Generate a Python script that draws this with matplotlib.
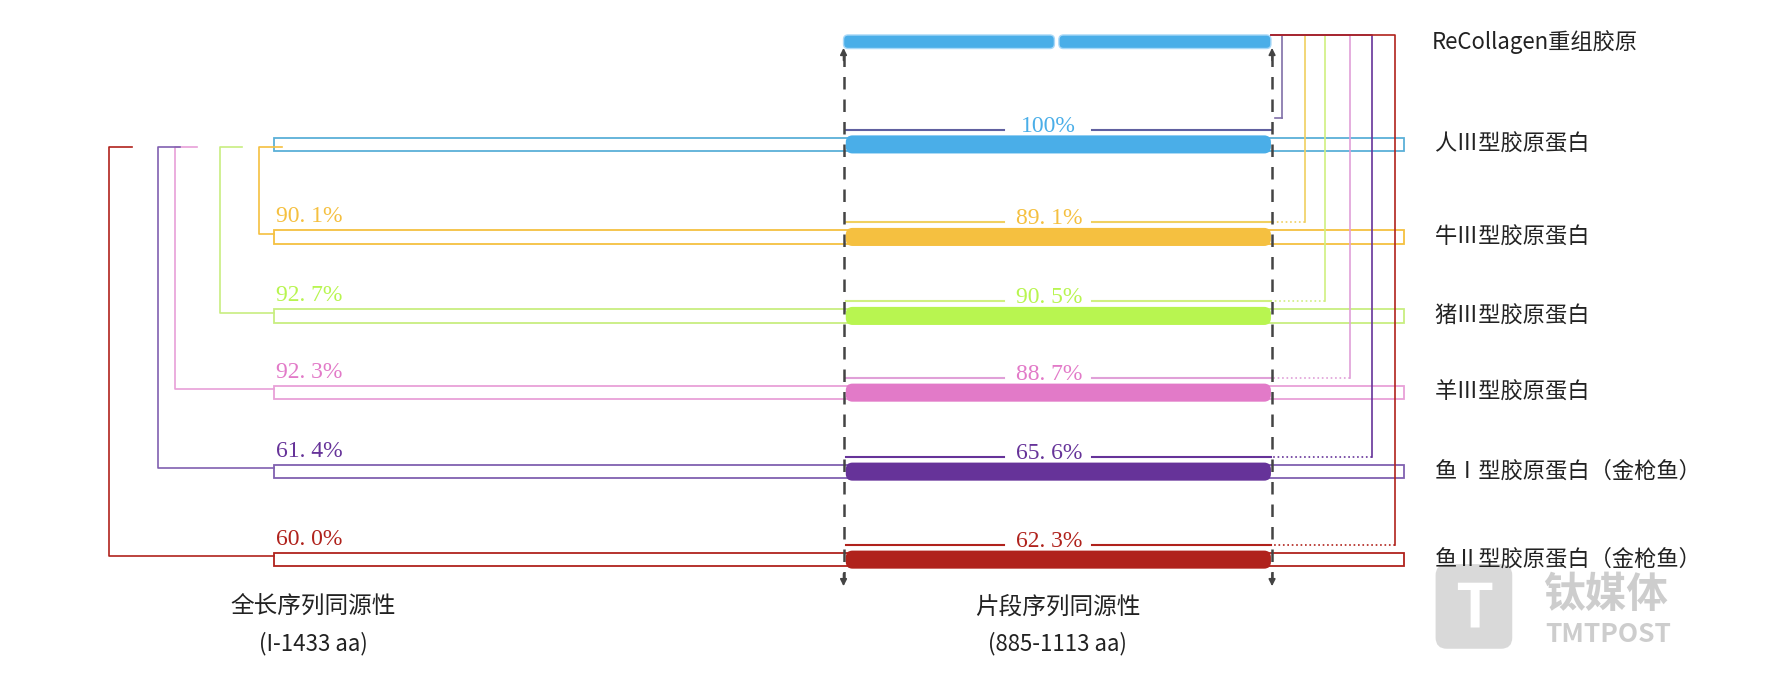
import matplotlib
matplotlib.use("Agg")
import matplotlib.pyplot as plt
from matplotlib.patches import FancyBboxPatch, Rectangle

plt.rcParams['font.family'] = ['Noto Sans CJK SC', 'DejaVu Sans']

names = ["人Ⅲ型胶原蛋白", "牛Ⅲ型胶原蛋白", "猪Ⅲ型胶原蛋白", "羊Ⅲ型胶原蛋白",
         "鱼Ⅰ型胶原蛋白（金枪鱼）", "鱼Ⅱ型胶原蛋白（金枪鱼）"]
full_pct = [None, "90. 1%", "92. 7%", "92. 3%", "61. 4%", "60. 0%"]
frag_pct = ["100%", "89. 1%", "90. 5%", "88. 7%", "65. 6%", "62. 3%"]
colors = ["#4aaee8", "#f5c040", "#b8f550", "#e27ac8", "#663399", "#b0221c"]
outline = ["#5ab0d8", "#f5c040", "#c8ee80", "#e8a0d8", "#8060b0", "#b0221c"]
right_col = ["#8070a8", "#f0d060", "#d0f080", "#e0a0d8", "#663399", "#b0221c"]
rows_y = [128, 210, 280, 348, 418, 496]
left_x = [None, 230, 195, 155, 140, 97]
right_x = [1137, 1157, 1175, 1197, 1217, 1237]

fig = plt.figure(figsize=(17.66, 6.86), dpi=100)
ax = fig.add_axes([0, 0, 1, 1])
ax.set_xlim(0, 1566)
ax.set_ylim(608, 0)
ax.axis('off')

FX0, FX1 = 243, 1245
SX0, SX1 = 750, 1127

for a, b in [(748, 935), (939, 1127)]:
    ax.add_patch(FancyBboxPatch((a, 31), b - a, 12, boxstyle="round,pad=0,rounding_size=4",
                                fc="#4aaee8", ec="#a8d8f8", lw=1))
ax.text(1270, 37, "ReCollagen重组胶原", fontsize=16, va='center', color="#222")

for i, y in enumerate(rows_y):
    c = colors[i]
    ax.add_patch(Rectangle((FX0, y - 6), FX1 - FX0, 12, fc='white', ec=outline[i], lw=1.3))
    ax.add_patch(FancyBboxPatch((SX0, y - 8), SX1 - SX0, 16, boxstyle="round,pad=0,rounding_size=6",
                                fc=c, ec='none', zorder=3))
    ax.text(1272, y, names[i], fontsize=16, va='center', color="#222")
    lc = right_col[i] if i else "#6060a0"
    ax.plot([SX0, 890], [y - 13, y - 13], color=lc, lw=1.5)
    ax.plot([968, SX1], [y - 13, y - 13], color=lc, lw=1.5)
    ax.text(930, y - 16, frag_pct[i], fontsize=17, family='Liberation Serif', color=c,
            ha='center', va='center', zorder=4)
    if full_pct[i]:
        ax.text(245, y - 18, full_pct[i], fontsize=17, family='Liberation Serif', color=c,
                ha='left', va='center')
    if left_x[i]:
        lx = left_x[i]
        ax.plot([lx + 20, lx, lx, FX0], [rows_y[0] + 2, rows_y[0] + 2, y - 3, y - 3],
                color=outline[i], lw=1.2)
    rx = right_x[i]
    ax.plot([1127, rx, rx], [31, 31, y - 23 if i == 0 else y - 13], color=right_col[i], lw=1.2)
    if i == 0:
        ax.plot([rx, 1131], [y - 23, y - 23], color=right_col[i], lw=1.2)
    else:
        ax.plot([rx, 1128], [y - 13, y - 13], color=right_col[i], lw=1.2, ls=':')

for x in [748, 1128]:
    ax.plot([x, x], [48, 512], color="#444", lw=1.8, ls=(0, (5, 4)))
    ax.annotate("", xy=(x, 40), xytext=(x, 56),
                arrowprops=dict(arrowstyle='-|>', color="#444", lw=1.2))
    ax.annotate("", xy=(x, 522), xytext=(x, 506),
                arrowprops=dict(arrowstyle='-|>', color="#444", lw=1.2))

ax.text(278, 538, "全长序列同源性", fontsize=17, ha='center', va='center', color="#222")
ax.text(278, 570, "(I-1433 aa)", fontsize=16, ha='center', va='center', color="#222")
ax.text(938, 538, "片段序列同源性", fontsize=17, ha='center', va='center', color="#222")
ax.text(938, 570, "(885-1113 aa)", fontsize=16, ha='center', va='center', color="#222")

ax.add_patch(FancyBboxPatch((1273, 500), 68, 75, boxstyle="round,pad=0,rounding_size=10",
                            fc="#d0d0d0", ec='none', alpha=0.8))
ax.text(1307, 540, "T", fontsize=44, weight='bold', color='white', ha='center', va='center')
ax.text(1368, 527, "钛媒体", fontsize=30, weight='bold', color="#c8c8c8", va='center', alpha=0.9)
ax.text(1370, 562, "TMTPOST", fontsize=19, weight='bold', color="#c8c8c8", va='center', alpha=0.9)

fig.savefig("out.png", dpi=100)
